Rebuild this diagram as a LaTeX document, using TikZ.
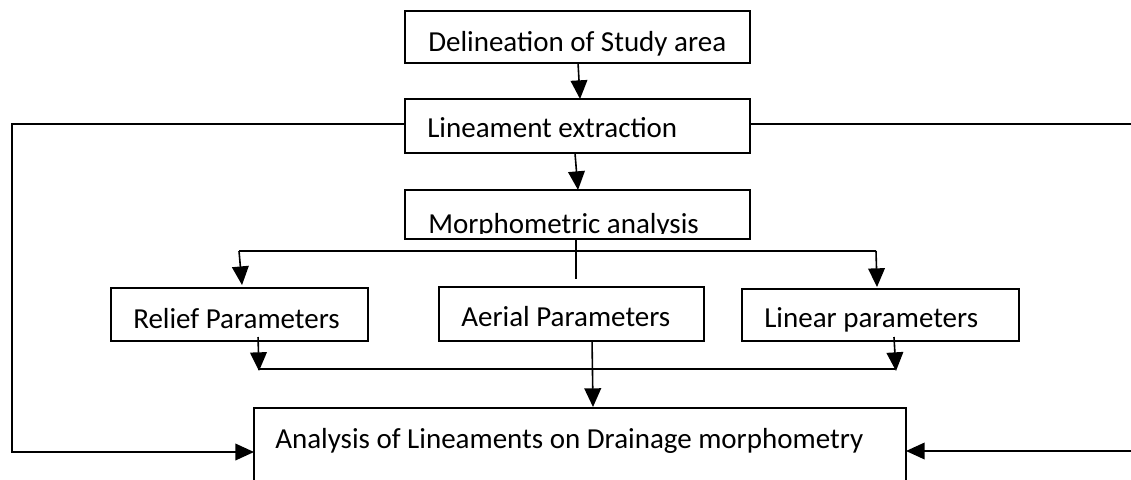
\documentclass[tikz,border=0pt]{standalone}
\usepackage{fontspec}
\setmainfont{Carlito}
\usepackage{tikz}
\usetikzlibrary{shapes,arrows.meta}

\tikzset{
    box/.style={draw, line width=1.2pt, inner sep=0pt, outer sep=0pt},
    txt/.style={inner sep=0pt, anchor=base west, font=\fontsize{21.75}{26}\selectfont},
    ln/.style={line width=1.2pt},
    arr/.style={line width=1.2pt, -{Triangle[length=14pt,width=12.5pt]}}
}

\begin{document}
\begin{tikzpicture}[x=0.75pt,y=0.75pt,yscale=-1,xscale=1]
        \useasboundingbox (0,0) rectangle (1131,479);

        % boxes
        \node [box, minimum width=258.75pt, minimum height=39pt] (delin) at (577.5,37) {};
        \node [box, minimum width=258.75pt, minimum height=40.5pt] (extract) at (577.5,126) {};
        \node [box, minimum width=258.75pt, minimum height=36.75pt] (morph) at (577.5,214.5) {};
        \node [box, minimum width=192.75pt, minimum height=39.75pt] (relief) at (239.5,314.5) {};
        \node [box, minimum width=198.75pt, minimum height=40.5pt] (aerial) at (571.5,314) {};
        \node [box, minimum width=207.75pt, minimum height=39pt] (linear) at (880.5,315) {};
        \node [box, minimum width=489pt, minimum height=61.5pt] (result) at (580,449) {};

        % texts
        \node [txt] (delin-t) at (428,51) {Delineation of Study area};
        \node [txt] (extract-t) at (427,137) {Lineament extraction};
        \begin{scope}
            \clip (405,190) rectangle (750,233.5);
            \node [txt] (morph-t) at (428,233) {Morphometric analysis};
        \end{scope}
        \node [txt] (relief-t) at (133,328) {Relief Parameters};
        \node [txt] (aerial-t) at (461,326) {Aerial Parameters};
        \node [txt] (linear-t) at (764,327) {Linear parameters};
        \node [txt] (result-t) at (275,448) {Analysis of Lineaments on Drainage morphometry};

        % branch points
        \coordinate (lb) at (239,251);
        \coordinate (rb) at (876,251);
        \coordinate (lj) at (258,369);
        \coordinate (rj) at (895,369);

        % main column
        \draw [arr] ([xshift=0.4pt]delin.south) -- ([xshift=1.9pt]extract.north);
        \draw [arr] ([xshift=-1.9pt]extract.south) -- ([xshift=0.4pt]morph.north);

        % split into the three parameter groups
        \draw [ln] ([xshift=-1.1pt]morph.south) -- ++(0,40);
        \draw [ln] (lb) -- (rb);
        \draw [arr] (lb) -- ([xshift=1.9pt,yshift=-2.2pt]relief.north);
        \draw [arr] (rb) -- ([xshift=-2.6pt,yshift=-1.5pt]linear.north);

        % join back
        \draw [ln] (lj) -- (rj);
        \draw [arr] ([xshift=13.9pt,yshift=-3pt]relief.south) -- ([xshift=0.75pt,yshift=1.5pt]lj);
        \draw [arr] ([xshift=10.1pt,yshift=-3pt]linear.south) -- ([xshift=0.75pt,yshift=1.5pt]rj);
        \draw [arr] ([xshift=15.4pt]aerial.south) -- ([xshift=9.75pt,yshift=-0.75pt]result.north);

        % side loops from lineament extraction
        \draw [arr] ([yshift=-1.5pt]extract.west) -| (12,452) -- (result.west |- 0,452);
        \draw [arr] ([yshift=-1.5pt]extract.east) -| (1134,451) -- (result.east |- 0,451);
\end{tikzpicture}
\end{document}
